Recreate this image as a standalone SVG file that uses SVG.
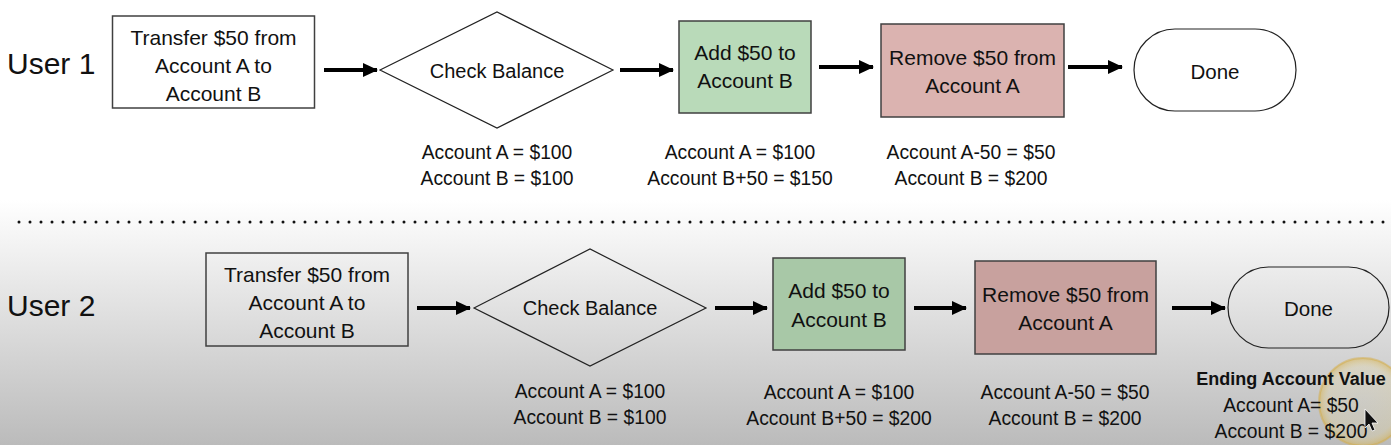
<svg xmlns="http://www.w3.org/2000/svg" width="1391" height="445" viewBox="0 0 1391 445">
<defs>
<linearGradient id="bg" x1="0" y1="200" x2="0" y2="445" gradientUnits="userSpaceOnUse">
<stop offset="0" stop-color="#ffffff"/>
<stop offset="1" stop-color="#bbbbbb"/>
</linearGradient>
<radialGradient id="hl" cx="0.5" cy="0.5" r="0.5">
<stop offset="0" stop-color="#f3e6b0" stop-opacity="0.12"/>
<stop offset="0.8" stop-color="#f0dc90" stop-opacity="0.22"/>
<stop offset="1" stop-color="#d9b24a" stop-opacity="0.55"/>
</radialGradient>
<marker id="ah" markerUnits="userSpaceOnUse" markerWidth="16" markerHeight="16" refX="14" refY="7" orient="auto">
<path d="M0,0 L15,7 L0,14 Z" fill="#000"/>
</marker>
<style>
.t{font-family:"Liberation Sans",Arial,sans-serif;fill:#111;text-anchor:middle}
.box{font-size:21px}
.lbl{font-size:19.3px}
.user{font-family:"Liberation Sans",Arial,sans-serif;font-size:30px;fill:#111}
.sq{stroke:#404040;stroke-width:1.5}
.dm{fill:none;stroke:#222;stroke-width:1.2}
.conn{stroke:#000;stroke-width:4;fill:none;marker-end:url(#ah)}
</style>
</defs>
<rect x="0" y="0" width="1391" height="445" fill="#ffffff"/>
<rect x="0" y="200" width="1391" height="245" fill="url(#bg)"/>
<line x1="19" y1="222" x2="1386" y2="222" stroke="#111" stroke-width="3" stroke-linecap="round" stroke-dasharray="0 11"/>

<text class="user" x="7" y="74">User 1</text>
<text class="user" x="7" y="316">User 2</text>

<g id="u1-transfer">
<rect class="sq" x="112.5" y="16" width="202" height="92" fill="#ffffff"/>
<text class="t box" x="213.5" y="45">Transfer $50 from</text>
<text class="t box" x="213.5" y="73">Account A to</text>
<text class="t box" x="213.5" y="101">Account B</text>
</g>
<g id="u1-check">
<polygon class="dm" points="380,70 497,12 613,70 497,128" fill="#ffffff"/>
<text class="t" x="497" y="78" font-size="20">Check Balance</text>
<text class="t lbl" x="497" y="159">Account A = $100</text>
<text class="t lbl" x="497" y="185">Account B = $100</text>
</g>
<g id="u1-add">
<rect class="sq" x="679" y="21" width="132" height="92" fill="#b9dab9"/>
<text class="t box" x="745" y="60">Add $50 to</text>
<text class="t box" x="745" y="88">Account B</text>
<text class="t lbl" x="740" y="159">Account A = $100</text>
<text class="t lbl" x="740" y="185">Account B+50 = $150</text>
</g>
<g id="u1-remove">
<rect class="sq" x="881" y="24" width="183" height="93" fill="#dbb3b0"/>
<text class="t box" x="972.5" y="65">Remove $50 from</text>
<text class="t box" x="972.5" y="93">Account A</text>
<text class="t lbl" x="971" y="159">Account A-50 = $50</text>
<text class="t lbl" x="971" y="185">Account B = $200</text>
</g>
<g id="u1-done">
<rect x="1134" y="29" width="162" height="82" rx="41" ry="41" fill="#ffffff" stroke="#222" stroke-width="1.2"/>
<text class="t" x="1215" y="79" font-size="20.5">Done</text>
</g>

<g id="u2-transfer">
<rect class="sq" x="206" y="253" width="202" height="93" fill="none"/>
<text class="t box" x="307" y="282">Transfer $50 from</text>
<text class="t box" x="307" y="310">Account A to</text>
<text class="t box" x="307" y="338">Account B</text>
</g>
<g id="u2-check">
<polygon class="dm" points="474,308 590,249 706,308 590,366"/>
<text class="t" x="590" y="315" font-size="20">Check Balance</text>
<text class="t lbl" x="590" y="398">Account A = $100</text>
<text class="t lbl" x="590" y="424">Account B = $100</text>
</g>
<g id="u2-add">
<rect class="sq" x="773" y="258" width="132" height="92" fill="#a8c8a7"/>
<text class="t box" x="839" y="298">Add $50 to</text>
<text class="t box" x="839" y="327">Account B</text>
<text class="t lbl" x="839" y="399">Account A = $100</text>
<text class="t lbl" x="839" y="425">Account B+50 = $200</text>
</g>
<g id="u2-remove">
<rect class="sq" x="975" y="261" width="181" height="93" fill="#c8a19e"/>
<text class="t box" x="1065.5" y="302">Remove $50 from</text>
<text class="t box" x="1065.5" y="330">Account A</text>
<text class="t lbl" x="1065" y="399">Account A-50 = $50</text>
<text class="t lbl" x="1065" y="425">Account B = $200</text>
</g>
<circle cx="1363" cy="402" r="44" fill="url(#hl)" stroke="#d4ad4c" stroke-opacity="0.5" stroke-width="2"/>
<g id="u2-done">
<rect x="1228" y="267" width="161" height="81" rx="40.5" ry="40.5" fill="none" stroke="#222" stroke-width="1.2"/>
<text class="t" x="1308.5" y="316" font-size="20.5">Done</text>
<text class="t" x="1291" y="385" font-size="18" font-weight="bold">Ending Account Value</text>
<text class="t lbl" x="1291" y="412">Account A= $50</text>
<text class="t lbl" x="1291" y="438">Account B = $200</text>
</g>

<g id="connectors">
<line class="conn" x1="324" y1="70" x2="377" y2="70"/>
<line class="conn" x1="620" y1="70" x2="673" y2="70"/>
<line class="conn" x1="819" y1="67" x2="873" y2="67"/>
<line class="conn" x1="1068" y1="67" x2="1122" y2="67"/>
<line class="conn" x1="417" y1="308" x2="470" y2="308"/>
<line class="conn" x1="715" y1="308" x2="767" y2="308"/>
<line class="conn" x1="914" y1="308" x2="966" y2="308"/>
<line class="conn" x1="1172" y1="308" x2="1225" y2="308"/>
</g>

<polygon points="1365,409 1365,428 1369,424 1372,431 1375,430 1372,423 1378,423" fill="#111" stroke="#fff" stroke-width="0.8"/>
</svg>
